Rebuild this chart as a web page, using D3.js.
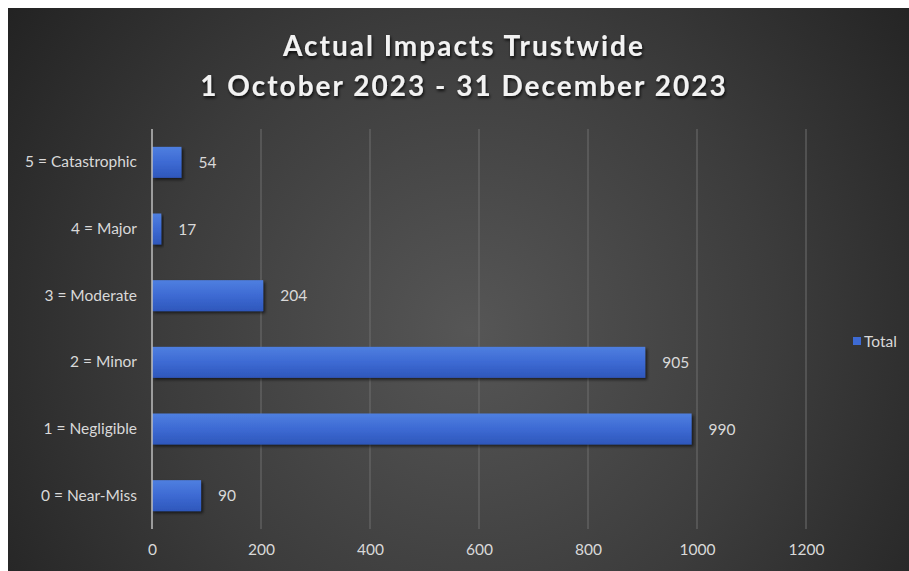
<!DOCTYPE html>
<html>
<head>
<meta charset="utf-8">
<script src="https://cdn.jsdelivr.net/npm/d3@7"></script>
<style>
  html, body { margin: 0; padding: 0; background: #ffffff; }
  svg { display: block; }
  text { font-family: Lato, "Open Sans", sans-serif; }
</style>
</head>
<body>
<svg id="chart" width="909" height="571"></svg>
<script>
// Impact categories, top to bottom
const categories = ["5 = Catastrophic", "4 = Major", "3 = Moderate", "2 = Minor", "1 = Negligible", "0 = Near-Miss"];
const totals = [54, 17, 204, 905, 990, 90];
const xTicks = [0, 200, 400, 600, 800, 1000, 1200];
const titleLines = ["Actual Impacts Trustwide", "1 October 2023 - 31 December 2023"];
const seriesName = "Total";

const labelSize = 15.5;
const svg = d3.select("#chart");
const defs = svg.append("defs");

// Dark backdrop with a soft glow toward the middle
const bg = defs.append("radialGradient").attr("id", "bgGrad")
  .attr("gradientUnits", "userSpaceOnUse")
  .attr("cx", 470).attr("cy", 330).attr("r", 560);
bg.append("stop").attr("offset", "0").attr("stop-color", "#565656");
bg.append("stop").attr("offset", "0.55").attr("stop-color", "#3c3c3c");
bg.append("stop").attr("offset", "1").attr("stop-color", "#232323");

const barGrad = defs.append("linearGradient").attr("id", "barGrad")
  .attr("x1", 0).attr("y1", 0).attr("x2", 0).attr("y2", 1);
barGrad.append("stop").attr("offset", "0").attr("stop-color", "#4f7fe0");
barGrad.append("stop").attr("offset", "0.5").attr("stop-color", "#3d6ad3");
barGrad.append("stop").attr("offset", "1").attr("stop-color", "#2e57bb");

const shadow = defs.append("filter").attr("id", "barShadow")
  .attr("x", "-10%").attr("y", "-20%").attr("width", "130%").attr("height", "160%");
shadow.append("feDropShadow").attr("dx", 2).attr("dy", 2).attr("stdDeviation", 1.5)
  .attr("flood-color", "#000").attr("flood-opacity", 0.6);

const textShadow = defs.append("filter").attr("id", "textShadow")
  .attr("x", "-5%").attr("y", "-30%").attr("width", "110%").attr("height", "160%");
textShadow.append("feDropShadow").attr("dx", 1).attr("dy", 2).attr("stdDeviation", 1.5)
  .attr("flood-color", "#000").attr("flood-opacity", 0.8);

svg.append("rect").attr("x", 8).attr("y", 8).attr("width", 901).attr("height", 563)
  .attr("fill", "url(#bgGrad)");

// Title
const title = svg.append("g").attr("filter", "url(#textShadow)");
titleLines.forEach((t, i) => {
  title.append("text")
    .attr("x", 464).attr("y", 56 + i * 40)
    .attr("text-anchor", "middle")
    .attr("fill", "#f2f2f2")
    .attr("font-size", 28).attr("font-weight", 700)
    .attr("letter-spacing", 2)
    .text(t);
});

const plot = { left: 152, right: 806, top: 129, bottom: 529 };

const x = d3.scaleLinear().domain([0, 1200]).range([plot.left, plot.right]);
const y = d3.scaleBand().domain(categories).range([plot.top, plot.bottom]).paddingInner(0.535).paddingOuter(0.2675);

// Vertical gridlines
svg.append("g").selectAll("line").data(xTicks.slice(1)).join("line")
  .attr("x1", d => x(d)).attr("x2", d => x(d))
  .attr("y1", plot.top).attr("y2", plot.bottom)
  .attr("stroke", "#6e6e6e").attr("stroke-width", 1);

// Bars
svg.append("g").selectAll("rect").data(categories).join("rect")
  .attr("x", x(0))
  .attr("y", d => y(d))
  .attr("width", (d, i) => x(totals[i]) - x(0))
  .attr("height", y.bandwidth())
  .attr("fill", "url(#barGrad)")
  .attr("filter", "url(#barShadow)");

// Category axis line
svg.append("line")
  .attr("x1", x(0)).attr("x2", x(0))
  .attr("y1", plot.top).attr("y2", plot.bottom)
  .attr("stroke", "#bfbfbf").attr("stroke-width", 1.5);

// Value labels
svg.append("g").selectAll("text").data(categories).join("text")
  .attr("x", (d, i) => x(totals[i]) + 17)
  .attr("y", d => y(d) + y.bandwidth() / 2)
  .attr("dy", "0.36em")
  .attr("fill", "#d9d9d9").attr("font-size", labelSize)
  .text((d, i) => totals[i]);

// Category labels
const yAxis = d3.axisLeft(y).tickSize(0).tickPadding(15);
svg.append("g").attr("transform", `translate(${plot.left},0)`).call(yAxis)
  .call(g => g.select(".domain").remove())
  .selectAll("text")
  .attr("fill", "#d9d9d9").attr("font-size", labelSize)
  .style("font-family", "Lato, 'Open Sans', sans-serif");

// Value axis labels
const xAxis = d3.axisBottom(x).tickValues(xTicks).tickSize(0).tickPadding(15).tickFormat(d3.format("d"));
svg.append("g").attr("transform", `translate(0,${plot.bottom})`).call(xAxis)
  .call(g => g.select(".domain").remove())
  .selectAll("text")
  .attr("fill", "#d9d9d9").attr("font-size", labelSize)
  .style("font-family", "Lato, 'Open Sans', sans-serif");

// Legend
const legend = svg.append("g").attr("transform", "translate(853,341)");
legend.append("rect").attr("x", 0).attr("y", -4).attr("width", 8).attr("height", 8)
  .attr("fill", "#3d6ad3");
legend.append("text").attr("x", 11).attr("y", 0).attr("dy", "0.36em")
  .attr("fill", "#d9d9d9").attr("font-size", labelSize).text(seriesName);
</script>
</body>
</html>
